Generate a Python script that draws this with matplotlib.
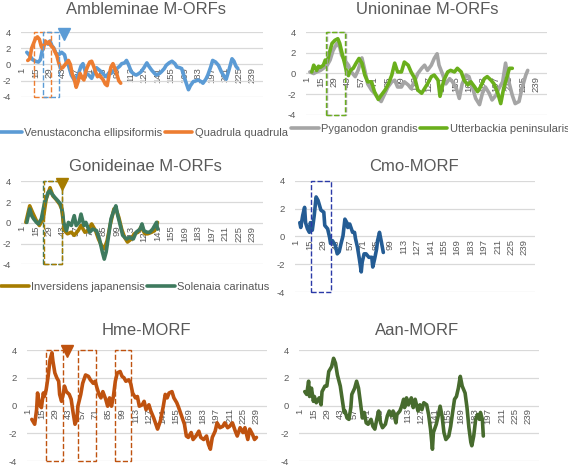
import matplotlib
matplotlib.use('Agg')
import matplotlib.pyplot as plt
from matplotlib.patches import Rectangle

plt.rcParams['font.family'] = ['Liberation Sans', 'DejaVu Sans']

W, H = 568, 465
xticks = list(range(1, 250, 14))

# --- Ambleminae M-ORFs
venu_x = [6, 9, 12, 15, 18, 20, 23, 26, 28, 30, 32, 34, 36, 39, 42, 45, 47, 49, 52, 55, 59, 62, 64, 67, 70,
          73, 76, 78, 81, 83, 86, 88, 91, 93, 96, 99, 102, 104, 107, 109, 111, 114, 117, 119, 122, 124, 127,
          130, 132, 135, 138, 140, 143, 145, 148, 150, 153, 156, 159, 161, 164, 166, 169, 171, 173, 175, 178,
          181, 183, 186, 188, 191, 193, 196, 198, 201, 204, 207, 210, 212, 215, 218, 220, 222, 224]
venu_y = [1.5, 1.1, 0.6, 0.4, 0.3, 0.6, 2.3, 2.7, 2.5, 2.9, 2.3, 2.0, 1.4, 1.2, 1.5, 1.2, 0.2, -0.1, -1.3, -1.9,
          -1.3, -0.2, 0.1, -1.1, -1.3, -1.7, -0.8, -0.4, -0.7, -0.9, -1.3, -1.5, -1.0, -1.1, -0.7, -0.5, -0.2,
          0.1, 0.2, 0.5, 0.0, -0.9, -1.2, -1.3, -1.1, -0.9, -0.4, 0.2, -0.2, -0.7, -1.1, -1.3, -1.1, -0.9, -0.5,
          -0.1, 0.2, 0.4, 0.1, -0.3, -0.4, -0.5, -1.7, -2.4, -3.1, -2.6, -2.1, -2.0, -1.9, -2.1, -2.3, -1.8,
          -1.3, -0.3, 0.5, 0.3, -0.1, -0.9, -1.5, -1.8, -0.6, 0.7, 0.4, -0.2, -0.5]
quad_x = [7, 9, 11, 13, 15, 17, 19, 21, 23, 25, 27, 29, 31, 33, 35, 37, 39, 41, 43, 45, 47, 49, 51, 53, 55,
          57, 59, 61, 63, 65, 67, 69, 71, 73, 75, 77, 79, 81, 83, 85, 87, 89, 91, 93, 95, 97, 99, 101, 103]
quad_y = [0.5, 0.7, 2.0, 2.6, 3.2, 3.4, 3.1, 2.2, 1.9, 2.9, 2.6, 2.8, 2.3, 2.1, 1.6, 1.1, 0.2, -0.5, -0.4,
          -0.1, 0.2, 0.5, 0.0, -1.2, -1.8, -2.8, -2.1, -1.1, -1.6, -1.9, -0.8, -0.2, 0.3, 0.4, -0.2, -0.9,
          -1.5, -1.3, -1.6, -1.9, -2.4, -2.6, -1.3, -0.3, 0.1, -0.5, -1.2, -2.0, -2.3]

# --- Unioninae M-ORFs
pyga_x = [4, 8, 11, 15, 18, 22, 25, 28, 32, 35, 37, 40, 44, 47, 51, 54, 58, 61, 64, 68, 71, 75, 78, 82, 85,
          89, 92, 95, 99, 102, 106, 109, 113, 116, 120, 123, 126, 130, 133, 136, 138, 142, 145, 149, 152,
          156, 159, 162, 166, 169, 173, 176, 180, 183, 186, 190, 193, 197, 200, 204, 207, 210, 214, 217,
          221, 224, 228, 230]
pyga_y = [0.15, 0.0, 0.15, 0.3, 0.5, 0.8, 1.3, 2.2, 2.9, 2.55, 1.75, 1.3, 0.8, 0.15, -0.3, 0.3, 1.5, 0.3,
          -1.0, -1.6, -1.9, -2.4, -2.7, -1.9, -1.3, -0.8, -0.65, -1.3, -1.3, -0.8, -1.1, -1.45, -0.65, 0.0,
          0.5, 0.8, 0.3, 0.8, 1.45, 1.9, 0.8, -0.15, -1.0, -0.5, -0.8, -1.45, -2.4, -1.0, -0.15, -0.3, -1.45,
          -2.4, -3.0, -1.9, -1.3, -1.9, -2.55, -2.1, -1.45, -0.8, 1.0, -0.65, -2.1, -2.9, -2.7, -1.45, -0.15,
          0.3]
utte_x = [6, 8, 11, 13, 15, 18, 20, 22, 24, 27, 30, 33, 35, 37, 40, 42, 44, 46, 49, 52, 55, 58, 61, 64, 68,
          71, 75, 78, 82, 85, 89, 92, 95, 99, 102, 106, 109, 113, 116, 120, 123, 126, 130, 133, 137, 139, 143,
          147, 150, 154, 157, 161, 164, 168, 171, 175, 178, 181, 185, 188, 192, 195, 199, 202, 205, 209, 211,
          214]
utte_y = [0.15, 0.8, 0.3, 0.7, 0.6, 0.8, 1.3, 1.1, 1.9, 2.9, 3.2, 3.35, 2.9, 2.1, 1.0, 0.2, -0.2, 0.3, 0.5,
          1.0, 1.45, 1.0, -0.15, -0.8, -0.8, -1.75, -2.5, -2.1, -1.6, -1.1, -0.15, 1.0, 0.15, 0.15, 1.1, 0.8,
          0.15, -0.5, -1.6, -1.9, -1.45, -1.0, -0.3, -0.15, -0.65, -2.2, -0.65, 0.15, 0.3, 0.15, 0.5, 0.15,
          -0.65, -1.1, -0.8, -1.3, -1.75, -1.3, -0.5, -0.3, -0.65, -1.0, -1.9, -2.9, -1.45, -0.15, 0.5, 0.5]

# --- Gonideinae M-ORFs
inve_x = [5, 9, 12, 16, 19, 23, 26, 30, 33, 36, 40, 42, 45, 48, 52, 55, 59, 62, 66, 69, 73, 77, 80, 84, 86,
          89, 92, 96, 98, 101, 104, 107, 110, 114, 117, 121, 124, 128, 131, 135, 138, 141]
inve_y = [0.05, 1.65, 1.0, 0.2, -0.25, 0.4, 2.3, 3.4, 2.6, 2.3, 1.8, 1.35, -0.75, -1.05, -0.9, -1.2, -0.75,
          -0.25, -0.9, -0.75, -0.1, -0.75, -1.55, -2.35, -2.5, -1.7, -0.25, 1.35, 1.35, 0.55, -0.6, -1.4,
          -1.85, -1.55, -1.05, -0.9, -0.4, -1.05, -1.05, -0.9, -0.75, 0.05]
sole_x = [6, 9, 11, 13, 16, 18, 21, 24, 28, 30, 32, 35, 38, 41, 43, 44, 47, 49, 52, 55, 57, 60, 62, 65, 67,
          71, 74, 78, 81, 84, 86, 88, 91, 93, 96, 98, 100, 103, 105, 109, 112, 116, 119, 123, 125, 127, 130,
          133, 136, 140, 141]
sole_y = [0.05, 1.35, 0.7, 0.4, 0.05, -0.1, 0.4, 1.8, 2.95, 3.1, 2.8, 2.45, 2.15, 1.8, 1.0, 0.05, -0.75, 0.05,
          -0.25, 0.7, -0.25, 0.05, 0.85, -0.25, 0.05, -0.9, -0.6, -0.75, -1.55, -2.8, -3.5, -2.8, -0.9, 0.4,
          1.2, 1.65, 0.7, -0.4, -1.2, -1.55, -1.4, -1.55, -0.9, -0.6, -0.1, -0.75, -0.9, -0.9, -0.6, 0.05,
          -0.6]

# --- Cmo-MORF
cmo_x = [5, 6, 8, 10, 11, 13, 15, 16, 18, 20, 22, 24, 27, 30, 31, 34, 36, 37, 39, 42, 44, 46, 48, 50, 52, 54,
         55, 57, 60, 62, 63, 65, 67, 69, 70, 72, 74, 77, 80, 81, 83, 85, 86, 88, 90, 92]
cmo_y = [1.0, 0.65, 1.5, 2.1, 1.0, 0.55, 0.3, 1.0, 0.45, 1.5, 2.85, 2.6, 1.9, 1.75, 0.8, 0.55, -0.05, -0.5,
         -0.3, -0.65, -1.25, -1.1, -0.5, 0.05, 1.25, 1.0, 0.65, 0.9, 0.3, 0.3, -0.15, -0.75, -1.6, -2.55,
         -1.85, -1.25, -1.25, -1.5, -1.5, -2.2, -1.6, -0.9, -0.3, 0.3, -0.4, -1.15]

# --- Hme-MORF
hme_x = [5, 8, 10, 11, 13, 15, 17, 18, 20, 22, 24, 26, 27, 29, 31, 33, 34, 36, 38, 39, 41, 44, 46, 48, 50, 52,
         53, 56, 58, 61, 64, 66, 69, 71, 73, 75, 77, 79, 82, 84, 86, 88, 90, 92, 94, 97, 99, 101, 103, 106,
         108, 110, 113, 115, 117, 120, 122, 124, 127, 129, 132, 135, 136, 139, 142, 144, 146, 148, 151, 153,
         156, 158, 161, 164, 166, 168, 171, 173, 176, 179, 181, 184, 187, 189, 191, 193, 196, 198, 201, 204,
         206, 209, 211, 214, 217, 219, 222, 225, 227, 230, 232, 235, 237, 239]
hme_y = [-1.0, -1.35, -0.3, 0.9, 0.05, -0.15, 0.9, 0.65, 1.15, 2.1, 3.3, 3.8, 3.2, 2.35, 2.0, 1.75, 0.8, 0.3,
         0.9, 1.4, 1.0, 0.8, 0.45, -0.5, -1.35, -1.0, -0.05, 0.8, 1.6, 2.2, 2.1, 1.85, 1.6, 1.75, 1.25, 0.8,
         0.55, 1.0, 0.45, -0.05, 0.55, -0.05, 0.65, 1.75, 2.35, 2.45, 2.1, 2.0, 1.75, 1.85, 1.6, 0.9, 0.55,
         0.65, -0.05, 0.05, 0.3, -0.3, 0.05, -0.4, -0.9, -1.5, -1.7, -1.1, -0.05, 0.8, 0.55, 0.9, 1.0, 0.55,
         0.2, -0.15, -0.75, -1.35, -2.2, -2.3, -1.95, -2.45, -2.2, -1.85, -2.3, -2.45, -2.2, -2.8, -3.15,
         -2.3, -1.85, -1.25, -1.6, -1.5, -1.25, -1.6, -1.5, -1.25, -1.85, -2.2, -1.6, -1.95, -1.6, -2.45,
         -1.7, -2.1, -2.45, -2.3]

# --- Aan-MORF
aan_x = [6, 8, 10, 11, 13, 15, 16, 18, 21, 23, 24, 27, 29, 31, 34, 36, 38, 40, 43, 45, 47, 48, 50, 52, 54, 55,
         58, 60, 62, 64, 66, 68, 70, 72, 75, 77, 79, 81, 83, 85, 87, 90, 92, 94, 96, 98, 101, 102, 105, 107,
         109, 110, 112, 114, 117, 119, 121, 124, 126, 128, 130, 133, 135, 137, 139, 140, 143, 145, 147, 149,
         151, 153, 156, 158, 160, 162, 164, 166, 168, 170, 173, 175, 177, 179, 180, 182, 184, 186, 188, 189,
         191, 192]
aan_y = [1.0, 0.8, 1.75, 0.65, 1.25, 0.3, 0.65, 0.2, 0.55, 0.05, 1.0, 1.4, 1.4, 2.45, 2.8, 3.4, 3.05, 2.2,
         1.4, 0.45, -0.5, -0.4, -0.9, -1.0, -0.15, 0.8, 1.25, 1.75, 1.25, 0.2, -0.9, -0.5, -1.25, -1.35, -1.0,
         -1.5, -1.7, -1.0, -0.4, -1.25, -1.6, -1.35, -0.75, -0.4, -0.75, -0.4, -1.25, -0.65, -0.4, -0.05, 0.45,
         -0.15, 0.55, 0.05, 0.55, -0.15, 0.45, -0.4, 0.05, -0.3, 0.2, 0.05, -0.65, -1.7, -3.15, -1.95, -1.35,
         -0.75, -0.05, -0.75, -1.95, -2.45, -2.2, -1.5, -0.5, 0.45, 0.65, 1.25, 2.1, 1.4, 0.9, -0.15, -1.6,
         -2.65, -2.9, -2.2, -1.0, -0.65, -1.0, -0.5, -1.0, -2.2]

# highlighted regions (start, end) and triangle markers (position, value)
amb_boxes = [(13, 31), (23, 39)]
amb_tri = (44, 3.7)
uni_boxes = [(21, 40), (22, 41)]
gon_boxes = [(23, 42), (24, 42)]
gon_tri = (42, 3.8)
cmo_boxes = [(17, 38)]
hme_boxes = [(20, 38), (53, 72), (92, 108)]
hme_tri = (42, 3.9)

fig = plt.figure(figsize=(W / 100, H / 100), dpi=100)


def px_axes(l, t, r, b):
    return fig.add_axes([l / W, 1 - b / H, (r - l) / W, (b - t) / H])


def style(ax):
    ax.spines['bottom'].set_position(('data', 0))
    for s in ax.spines.values():
        s.set_visible(False)
    ax.set_xlim(0, 250)
    ax.set_ylim(-4, 4)
    ax.set_yticks([-4, -2, 0, 2, 4])
    ax.set_yticklabels(['-4', '-2', '0', '2', '4'])
    ax.set_xticks(xticks)
    ax.set_xticklabels([str(t) for t in xticks])
    ax.tick_params(length=0, labelsize=6.8, labelcolor='#595959')
    ax.tick_params(axis='x', pad=2, labelrotation=90)
    ax.tick_params(axis='y', pad=7)
    ax.grid(axis='y', color='#d9d9d9', lw=0.9)
    ax.set_facecolor('none')


def series(ax, x, y, color, label=None):
    return ax.plot(x, y, color=color, lw=2.6, solid_joinstyle='round',
                   solid_capstyle='round', label=label, zorder=3)[0]


def boxes(ax, spans, color):
    for s, e in spans:
        ax.add_patch(Rectangle((s, -4), e - s, 8, fill=False, ec=color, ls='--',
                               lw=1.0, clip_on=False, zorder=4))


def tri(ax, p, color):
    ax.plot([p[0]], [p[1]], marker='v', ms=9, color=color, clip_on=False, zorder=5)


def title(txt, cx, by):
    fig.text(cx / W, 1 - by / H, txt, ha='center', va='baseline', fontsize=12, color='#595959')


def legend(ax, handles, cx, cy):
    ax.legend(handles=handles, loc='center', bbox_to_anchor=(cx / W, 1 - cy / H),
              bbox_transform=fig.transFigure, ncol=2, frameon=False, fontsize=8,
              handlelength=2.5, handletextpad=0.2, columnspacing=0.2, labelcolor='#595959')


c_venu, c_quad = '#5b9bd5', '#ed7d31'
c_pyga, c_utte = '#a5a5a5', '#6aaf1c'
c_inve, c_sole = '#a67c00', '#3e7a5e'
c_cmo, c_hme, c_aan = '#245c94', '#bf520f', '#476b2e'

# panel 1
ax1 = px_axes(21, 32, 263, 97)
style(ax1)
h1 = series(ax1, venu_x, venu_y, c_venu, 'Venustaconcha ellipsiformis')
h2 = series(ax1, quad_x, quad_y, c_quad, 'Quadrula quadrula')
boxes(ax1, amb_boxes[:1], c_quad)
boxes(ax1, amb_boxes[1:], c_venu)
tri(ax1, amb_tri, c_venu)
legend(ax1, [h1, h2], 141, 133)
title('Ambleminae M-ORFs', 146, 13.5)

# panel 2
ax2 = px_axes(306, 32, 547, 115)
style(ax2)
h1 = series(ax2, pyga_x, pyga_y, c_pyga, 'Pyganodon grandis')
h2 = series(ax2, utte_x, utte_y, c_utte, 'Utterbackia peninsularis')
boxes(ax2, uni_boxes[1:], c_pyga)
boxes(ax2, uni_boxes[:1], c_utte)
legend(ax2, [h1, h2], 430, 129)
title('Unioninae M-ORFs', 427, 13.5)

# panel 3
ax3 = px_axes(21, 181.5, 263, 264.3)
style(ax3)
h1 = series(ax3, inve_x, inve_y, c_inve, 'Inversidens japanensis')
h2 = series(ax3, sole_x, sole_y, c_sole, 'Solenaia carinatus')
boxes(ax3, gon_boxes[:1], c_sole)
boxes(ax3, gon_boxes[1:], c_inve)
tri(ax3, gon_tri, c_inve)
legend(ax3, [h1, h2], 135, 287)
title('Gonideinae M-ORFs', 145, 171)

# panel 4
ax4 = px_axes(295, 181, 535, 292)
style(ax4)
series(ax4, cmo_x, cmo_y, c_cmo)
boxes(ax4, cmo_boxes, '#2b3aa8')
title('Cmo-MORF', 414, 171)

# panel 5
ax5 = px_axes(27, 350, 267, 461)
style(ax5)
series(ax5, hme_x, hme_y, c_hme)
boxes(ax5, hme_boxes, c_hme)
tri(ax5, hme_tri, c_hme)
title('Hme-MORF', 146, 335)

# panel 6
ax6 = px_axes(299, 350, 539, 461)
style(ax6)
series(ax6, aan_x, aan_y, c_aan)
title('Aan-MORF', 417, 335)

plt.savefig('out.png', dpi=100)
